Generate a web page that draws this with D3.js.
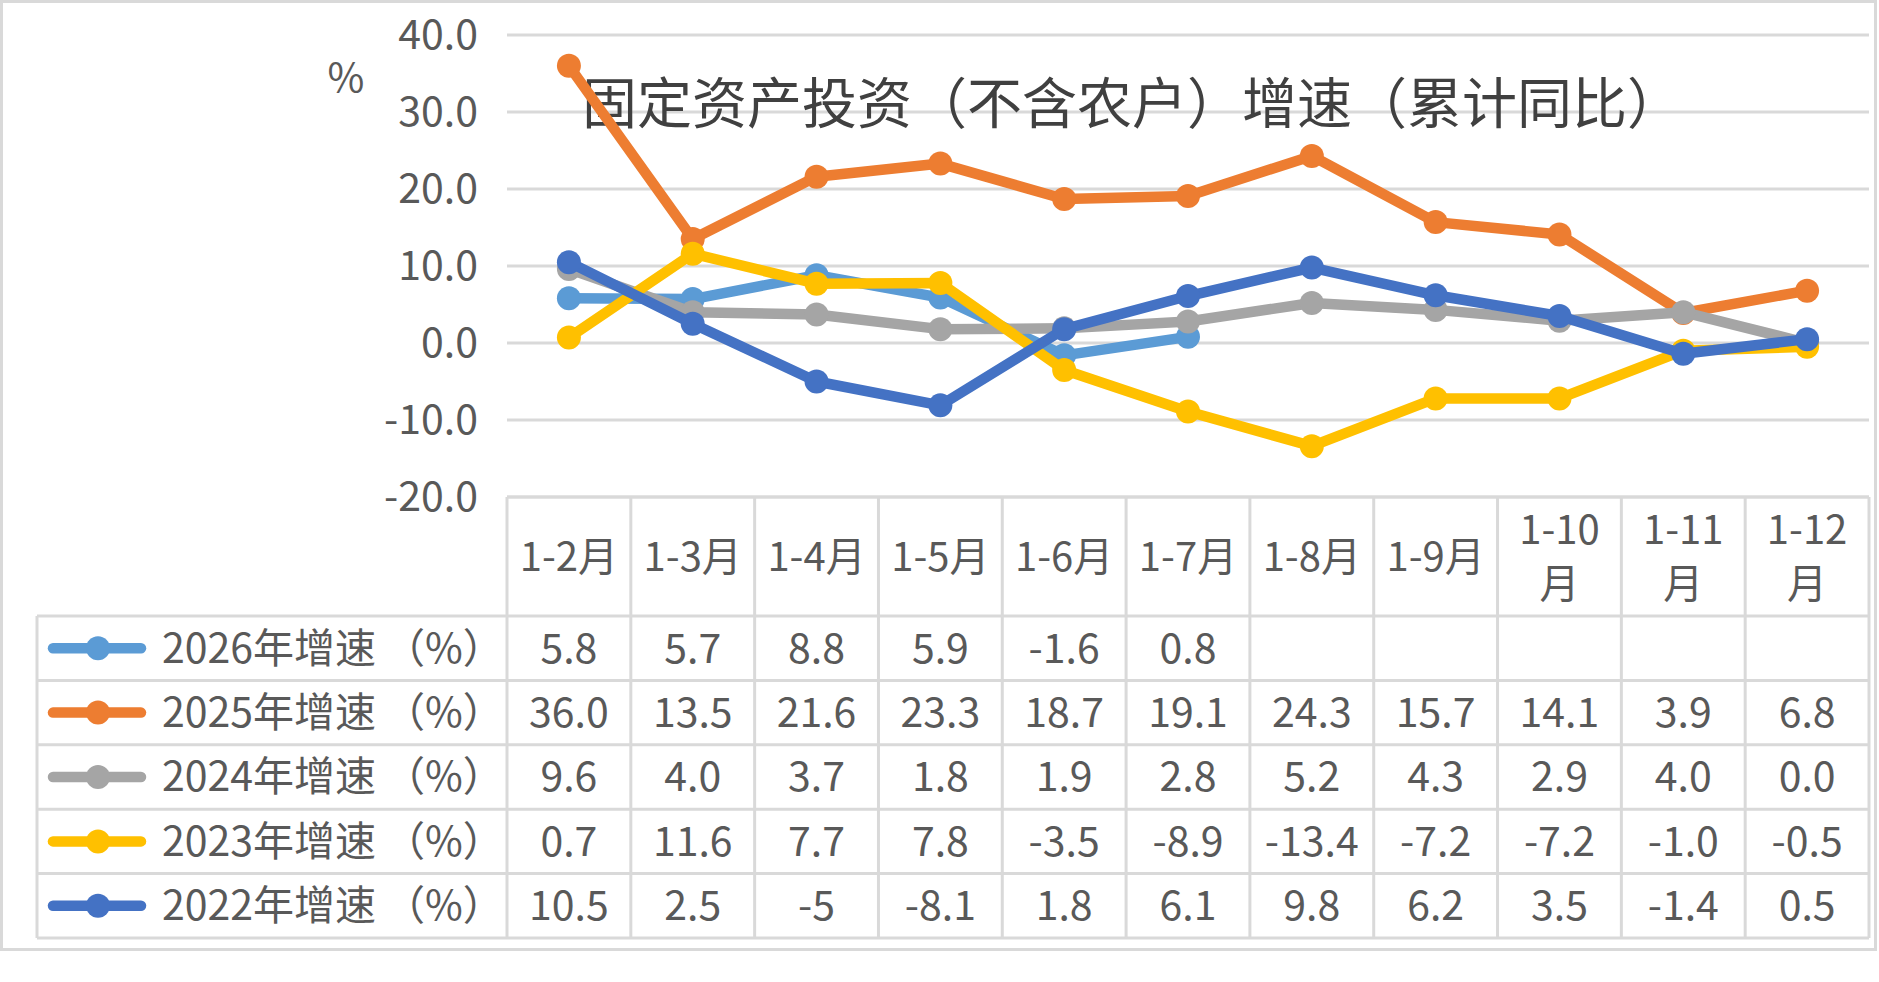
<!DOCTYPE html>
<html><head><meta charset="utf-8">
<script src="https://cdn.jsdelivr.net/npm/d3@7"></script>
<style>
html,body{margin:0;padding:0;background:#fff;}
svg{display:block;}
text{font-family:"Noto Sans CJK SC","Noto Sans",sans-serif;}
</style></head>
<body><div id="chart"></div>
<script>
const titleText = "固定资产投资（不含农户）增速（累计同比）";
const unitText = "%";
const categories = ["1-2月","1-3月","1-4月","1-5月","1-6月","1-7月","1-8月","1-9月","1-10月","1-11月","1-12月"];
const seriesNames = ["2026年增速（%）","2025年增速（%）","2024年增速（%）","2023年增速（%）","2022年增速（%）"];
const seriesColors = ["#5B9BD5","#ED7D31","#A5A5A5","#FFC000","#4472C4"];
const v2026 = ["5.8","5.7","8.8","5.9","-1.6","0.8"];
const v2025 = ["36.0","13.5","21.6","23.3","18.7","19.1","24.3","15.7","14.1","3.9","6.8"];
const v2024 = ["9.6","4.0","3.7","1.8","1.9","2.8","5.2","4.3","2.9","4.0","0.0"];
const v2023 = ["0.7","11.6","7.7","7.8","-3.5","-8.9","-13.4","-7.2","-7.2","-1.0","-0.5"];
const v2022 = ["10.5","2.5","-5","-8.1","1.8","6.1","9.8","6.2","3.5","-1.4","0.5"];
const yTicks = [40,30,20,10,0,-10,-20];

const seriesValues = [v2026,v2025,v2024,v2023,v2022];

const W = 1879, H = 982;
const svg = d3.select("#chart").append("svg").attr("width",W).attr("height",H);
svg.append("rect").attr("width",W).attr("height",H).attr("fill","#fff");

const gridColor = "#d9d9d9", textColor = "#595959";
const plotL = 507, plotR = 1869, plotT = 35, plotB = 497;
const headerB = 616, tableB = 938, legendL = 37;

// outer frame
svg.append("rect").attr("x",1.5).attr("y",1.5).attr("width",1874).attr("height",948)
  .attr("fill","none").attr("stroke",gridColor).attr("stroke-width",3);

const x = d3.scaleBand().domain(categories).range([plotL,plotR]).padding(0);
const y = d3.scaleLinear().domain([-20,40]).range([plotB,plotT]);
const cx = c => x(c) + x.bandwidth()/2;

// gridlines
svg.append("g").selectAll("line").data(yTicks).join("line")
  .attr("x1",plotL).attr("x2",plotR).attr("y1",d=>y(d)).attr("y2",d=>y(d))
  .attr("stroke",gridColor).attr("stroke-width",3);

// y tick labels
svg.append("g").selectAll("text").data(yTicks).join("text")
  .attr("x",478).attr("y",d=>y(d)).attr("dy","0.35em")
  .attr("text-anchor","end").attr("font-size",41).attr("fill",textColor)
  .text(d=>d.toFixed(1));

// unit
svg.append("text").attr("x",346).attr("y",78).attr("dy","0.35em").attr("text-anchor","middle")
  .attr("font-size",40).attr("fill",textColor).text(unitText);

// table rows
const rowY = d3.scaleBand().domain(seriesNames).range([headerB,tableB]).padding(0);
const tg = svg.append("g");
const hLines = [headerB].concat(seriesNames.map(s=>rowY(s)+rowY.bandwidth()));
tg.selectAll("line.h").data(hLines).join("line").attr("class","h")
  .attr("x1",legendL).attr("x2",plotR).attr("y1",d=>d).attr("y2",d=>d)
  .attr("stroke",gridColor).attr("stroke-width",3);
tg.append("line").attr("x1",plotL).attr("x2",plotR).attr("y1",plotB).attr("y2",plotB)
  .attr("stroke",gridColor).attr("stroke-width",3);
const vLines = categories.map(c=>x(c)).concat([plotR]);
tg.selectAll("line.v").data(vLines).join("line").attr("class","v")
  .attr("x1",d=>d).attr("x2",d=>d).attr("y1",plotB).attr("y2",tableB)
  .attr("stroke",gridColor).attr("stroke-width",3);
tg.append("line").attr("x1",legendL).attr("x2",legendL).attr("y1",headerB).attr("y2",tableB)
  .attr("stroke",gridColor).attr("stroke-width",3);

// header labels
const hdr = svg.append("g").selectAll("text").data(categories).join("text")
  .attr("text-anchor","middle").attr("font-size",40).attr("fill",textColor);
hdr.each(function(c){
  const t = d3.select(this);
  const mid = (plotB+headerB)/2;
  if (c.length > 4) {
    const parts = [c.slice(0,-1), c.slice(-1)];
    parts.forEach((p,i)=>{
      t.append("tspan").attr("x",cx(c)).attr("y", mid + (i===0?-27:27)).attr("dy","0.35em").text(p);
    });
  } else {
    t.attr("x",cx(c)).attr("y",mid).attr("dy","0.35em").text(c);
  }
});

// legend column + values
seriesNames.forEach((name,si)=>{
  const yc = rowY(name) + rowY.bandwidth()/2;
  const col = seriesColors[si];
  svg.append("line").attr("x1",53).attr("x2",141).attr("y1",yc).attr("y2",yc)
    .attr("stroke",col).attr("stroke-width",10.5).attr("stroke-linecap","round");
  svg.append("circle").attr("cx",98).attr("cy",yc).attr("r",12).attr("fill",col);
  const cut = name.indexOf("（");
  svg.append("text").attr("x",162).attr("y",yc).attr("dy","0.35em")
    .attr("font-size",41).attr("fill",textColor).text(name.slice(0,cut));
  svg.append("text").attr("x",384).attr("y",yc).attr("dy","0.35em")
    .attr("font-size",41).attr("fill",textColor).text(name.slice(cut));
  svg.append("g").selectAll("text").data(seriesValues[si]).join("text")
    .attr("x",(d,i)=>cx(categories[i])).attr("y",yc).attr("dy","0.35em")
    .attr("text-anchor","middle").attr("font-size",41).attr("fill",textColor)
    .text(d=>d);
});

// title
svg.append("text").attr("x",1132).attr("y",104).attr("dy","0.35em").attr("text-anchor","middle")
  .attr("font-size",55).attr("fill","#404040").text(titleText);

// lines + markers (drawn in table order, later on top)
const line = d3.line().x(d=>cx(d.c)).y(d=>y(d.v));
seriesValues.forEach((vals,si)=>{
  const pts = vals.map((v,i)=>({c:categories[i], v:+v}));
  const g = svg.append("g");
  g.append("path").datum(pts).attr("d",line).attr("fill","none")
    .attr("stroke",seriesColors[si]).attr("stroke-width",10.5)
    .attr("stroke-linejoin","round").attr("stroke-linecap","round");
  g.selectAll("circle").data(pts).join("circle")
    .attr("cx",d=>cx(d.c)).attr("cy",d=>y(d.v)).attr("r",12).attr("fill",seriesColors[si]);
});
</script>
</body></html>
